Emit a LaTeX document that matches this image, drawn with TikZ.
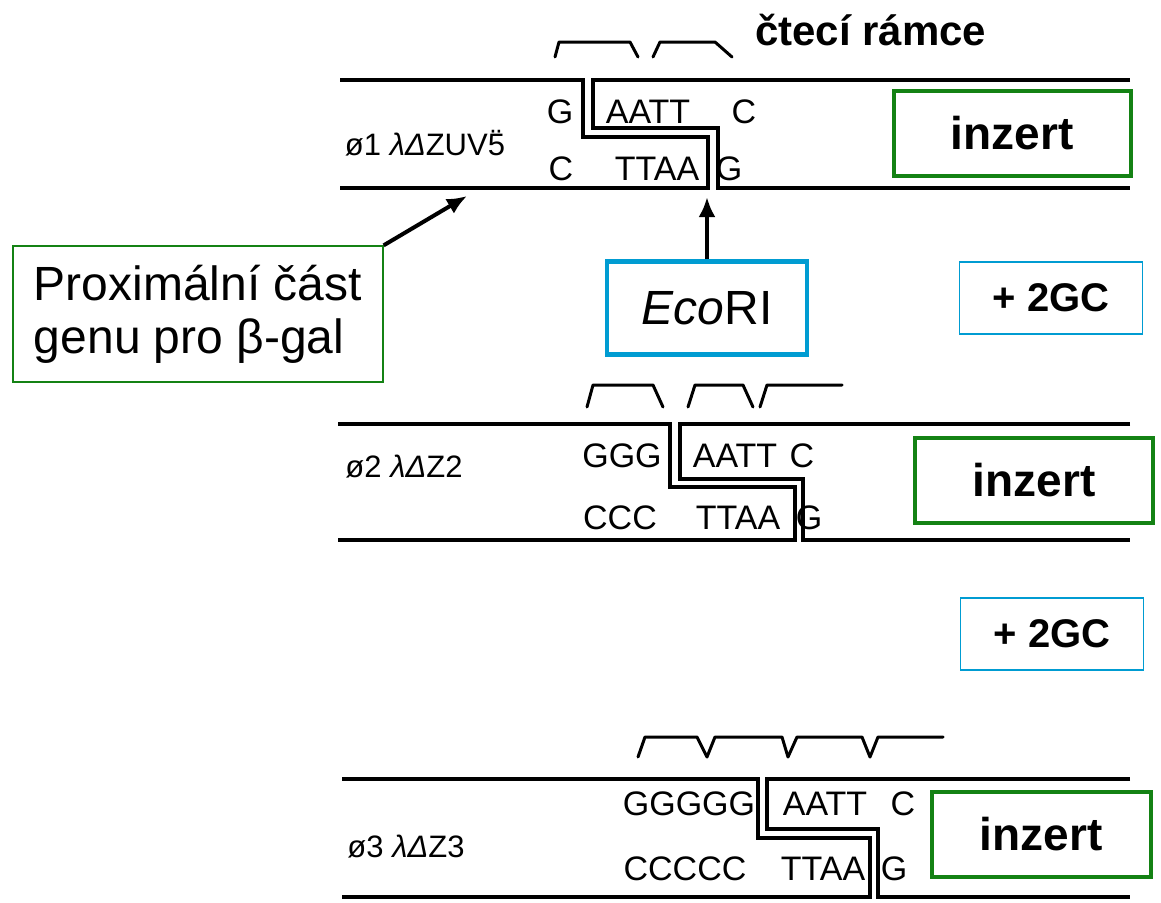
\documentclass[tikz,border=0pt]{standalone}
\usepackage{fontspec}
\setmainfont{Liberation Sans}
\usepackage{xcolor}
\usepackage{tikz}
\usetikzlibrary{calc,arrows.meta}
\definecolor{insgreen}{RGB}{20,130,20}
\definecolor{ecoblue}{RGB}{0,156,210}

\begin{document}
\begin{tikzpicture}[
		%Global config
		>={Latex[length=20pt,width=17pt]},
		x=1pt, y=-1pt,
		color=black,
		%Styles
		strand/.style={line width=3.5pt, line join=miter},
		frame/.style={line width=3pt, line join=round, line cap=round},
		base/.style={font=\fontsize{34}{34}\selectfont, inner sep=0pt, anchor=base},
		tag/.style={font=\fontsize{31}{31}\selectfont, inner sep=0pt},
		inzert/.style={
			draw=insgreen,
			line width=4pt,
			font=\bfseries\fontsize{46}{46}\selectfont,
			minimum height=85pt,
		},
		plus/.style={
			draw=ecoblue,
			line width=1.5pt,
			font=\bfseries\fontsize{40}{40}\selectfont,
			minimum width=183pt,
			minimum height=72pt,
		},
		enzyme/.style={
			draw=ecoblue,
			line width=4.5pt,
			font=\fontsize{48}{48}\selectfont,
			minimum width=200pt,
			minimum height=93pt,
		},
		note/.style={
			draw=insgreen,
			line width=1.3pt,
			font=\fontsize{48}{53}\selectfont,
			align=left,
			minimum width=370pt,
			minimum height=136pt,
			%text width=330pt,
		},
		pointer/.style={->, line width=4pt}
		]

		\useasboundingbox (0,0) rectangle (1161,902);
		\fill[white] (0,0) rectangle (1161,902);

		% reading frames
		\node[anchor=base west, inner sep=0pt, font=\bfseries\fontsize{42}{42}\selectfont] (title) at (755,45) {čtecí rámce};
		\draw[frame] (555,57) -- (559,42) -- (630,42) -- (638,57) (653,57) -- (660,42) -- (715,42) -- (732,57);
		\draw[frame] (587,407) -- (593,385) -- (653,385) -- (663,407) (688,407) -- (695,385) -- (743,385) -- (753,407) (760,407) -- (767,385) -- (842,385);
		\draw[frame] (638,757) -- (645,737) -- (697,737) -- (707,757) -- (715,737) -- (782,737) -- (788,757) -- (797,737) -- (862,737) -- (870,757) -- (878,737) -- (943,737);

		% panel 1
		\draw[strand] (340,80) --++(243,0) --++(0,57) --++(125,0) --++(0,51) -- (340,188);
		\draw[strand] (1130,80) -- (593,80) --++(0,48) --++(125,0) --++(0,60) -- (1130,188);
		\node[tag] (lab1) at (425,143) {ø1 {\itshape λΔ}ZUV\makebox[0pt][l]{\hspace{0.11em}\raisebox{0.12em}{¨}}5};
		\node[base] (g1) at (560,123) {G};
		\node[base] (aatt1) at (648,123) {AATT};
		\node[base] (c1) at (744,123) {C};
		\node[base] (cc1) at (561,180) {C};
		\node[base] (ttaa1) at (657,180) {TTAA};
		\node[base] (gg1) at (729,180) {G};
		\node[inzert, minimum width=237pt] (ins1) at (1012,133) {inzert};

		% panel 2
		\draw[strand] (338,424) --++(332,0) --++(0,63) --++(125,0) --++(0,53) -- (338,540);
		\draw[strand] (1130,424) -- (680,424) --++(0,55) --++(123,0) --++(0,61) -- (1130,540);
		\node[tag] (lab2) at (404,467) {ø2 {\itshape λΔ}Z2};
		\node[base] (g2) at (622,467) {GGG};
		\node[base] (aatt2) at (735,467) {AATT};
		\node[base] (c2) at (802,467) {C};
		\node[base] (cc2) at (620,529) {CCC};
		\node[base] (ttaa2) at (738,529) {TTAA};
		\node[base] (gg2) at (809,529) {G};
		\node[inzert, minimum width=238pt] (ins2) at (1034,480) {inzert};

		% panel 3
		\draw[strand] (342,779) --++(416,0) --++(0,59) --++(112,0) --++(0,59) -- (342,897);
		\draw[strand] (1130,779) -- (767,779) --++(0,50) --++(111,0) --++(0,68) -- (1130,897);
		\node[tag] (lab3) at (406,847) {ø3 {\itshape λΔ}Z3};
		\node[base] (g3) at (689,815) {GGGGG};
		\node[base] (aatt3) at (825,815) {AATT};
		\node[base] (c3) at (903,815) {C};
		\node[base] (cc3) at (685,880) {CCCCC};
		\node[base] (ttaa3) at (823,880) {TTAA};
		\node[base] (gg3) at (894,880) {G};
		\node[inzert, minimum width=219pt] (ins3) at (1041,834) {inzert};

		% boxes and pointers
		\node[note] (gal) at (198,314) {Proximální část\\genu pro β-gal};
		\node[enzyme] (eco) at (707,308) {\textit{Eco}RI};
		\node[plus] (gc1) at (1051,298) {+ 2GC};
		\node[plus] (gc2) at (1052,634) {+ 2GC};
		\coordinate (galtip) at (467,196);
		\coordinate (ecotip) at (707,197);
		\draw[pointer] (gal.north east) -- (galtip);
		\draw[pointer] (eco.north) -- (ecotip);
	\end{tikzpicture}
\end{document}
